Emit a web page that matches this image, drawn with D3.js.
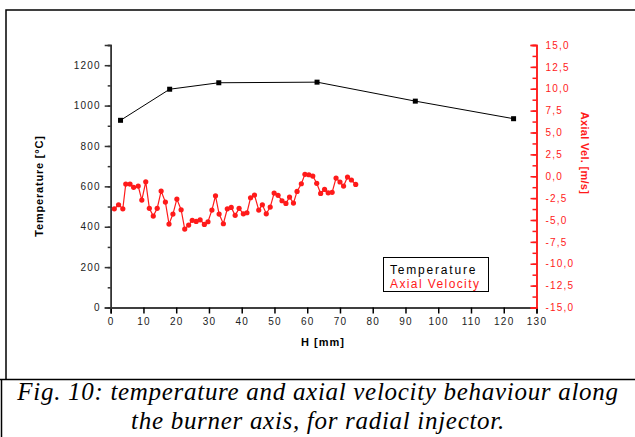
<!DOCTYPE html>
<html>
<head>
<meta charset="utf-8">
<script src="https://cdn.jsdelivr.net/npm/d3@7"></script>
<style>
  body { margin: 0; background: #fff; }
  svg { display: block; }
  .tick text { font-family: "Liberation Sans", Arial, sans-serif; font-size: 10px; letter-spacing: 1.2px; }
</style>
</head>
<body>
<svg id="chart"></svg>
<script>
// temperature along the axis (mm, °C)
var tempH = [3, 18, 33, 63, 93, 123];
var tempVal = [927, 1081, 1113, 1116, 1022, 935];

// axial velocity (mm, m/s)
var velH = [1.1, 2.4, 3.7, 4.6, 5.9, 7.0, 8.4, 9.5, 10.7, 11.8, 13.0, 14.2, 15.4, 16.7, 17.8, 19.0,
  20.2, 21.5, 22.6, 23.8, 24.9, 26.1, 27.3, 28.6, 29.7, 30.9, 32.0, 33.1, 34.4, 35.6, 36.8, 38.0,
  39.2, 40.5, 41.6, 42.7, 43.9, 45.2, 46.3, 47.5, 48.7, 49.9, 51.1, 52.3, 53.5, 54.6, 55.8, 56.9,
  58.2, 59.3, 60.5, 61.7, 62.9, 64.1, 65.3, 66.4, 67.6, 68.8, 70.0, 71.1, 72.3, 73.5, 74.8];
var velVal = [-3.72, -3.26, -3.72, -0.89, -0.89, -1.27, -1.12, -2.72, -0.63, -3.67, -4.55, -3.67, -1.69, -2.95, -5.47, -4.32,
  -2.61, -3.83, -6.04, -5.58, -5.04, -5.16, -4.98, -5.50, -5.20, -3.87, -2.23, -4.32, -5.43, -3.72, -3.56, -4.47,
  -3.67, -4.29, -4.17, -2.46, -2.15, -3.87, -3.26, -4.29, -3.52, -1.92, -2.18, -2.80, -3.10, -2.38, -3.07, -1.73,
  -0.86, 0.22, 0.17, 0.02, -0.81, -1.96, -1.50, -1.89, -1.84, -0.21, -0.66, -1.12, -0.09, -0.43, -0.93];

var xTicks = [0, 10, 20, 30, 40, 50, 60, 70, 80, 90, 100, 110, 120, 130];
var tempTicks = [0, 200, 400, 600, 800, 1000, 1200];
var velTicks = [-15, -12.5, -10, -7.5, -5, -2.5, 0, 2.5, 5, 7.5, 10, 12.5, 15];

var W = 635, H = 437;
var red = "#ff1a1a";

var svg = d3.select("#chart").attr("width", W).attr("height", H);

// frames
svg.append("path").attr("d", "M6,379V10H635").attr("fill", "none").attr("stroke", "#000").attr("stroke-width", 1.5);
svg.append("path").attr("d", "M0,379.5H635M1.5,379V437").attr("fill", "none").attr("stroke", "#000").attr("stroke-width", 1.5);

var x = d3.scaleLinear().domain([0, 130]).range([110.7, 536.5]);
var yT = d3.scaleLinear().domain([0, 1300]).range([307.5, 45]);
var yV = d3.scaleLinear().domain([-15, 15]).range([307.5, 45]);

var loc = d3.formatLocale({decimal: ",", thousands: "", grouping: [3], currency: ["", ""], minus: "-"});
var f1 = loc.format(".1f");
var f0 = loc.format("d");

function minors(a, b, step) {
  var out = [];
  for (var v = a; v <= b + 1e-9; v += step) out.push(v);
  return out;
}

// x axis
var gx = svg.append("g").attr("transform", "translate(0," + yT(0) + ")");
gx.call(d3.axisBottom(x).tickValues(minors(0, 130, 5)).tickSize(3).tickFormat(""));
gx.call(d3.axisBottom(x).tickValues(xTicks).tickSize(6).tickPadding(4.5).tickFormat(f0));
gx.selectAll(".domain, line").attr("stroke", "#000").attr("stroke-width", 1.5);
gx.selectAll("text").attr("fill", "#222");

// left axis
var gl = svg.append("g").attr("transform", "translate(" + x(0) + ",0)");
gl.append("g").call(d3.axisLeft(yT).tickValues(minors(0, 1300, 100)).tickSize(3).tickFormat(""));
gl.append("g").call(d3.axisLeft(yT).tickValues(tempTicks).tickSize(6).tickPadding(4).tickFormat(f0));
gl.selectAll(".domain, line").attr("stroke", "#333").attr("stroke-width", 1.5);
gl.selectAll("text").attr("fill", "#222");

// right axis, ticks pointing inward
var gr = svg.append("g").attr("transform", "translate(" + x(130) + ",0)");
gr.append("g").call(d3.axisRight(yV).tickValues(minors(-15, 15, 1.25)).tickSize(-4).tickFormat(""));
gr.append("g").call(d3.axisRight(yV).tickValues(velTicks).tickSize(-6).tickPadding(9).tickFormat(f1));
gr.selectAll(".domain, line").attr("stroke", red).attr("stroke-width", 1.5);
gr.selectAll("text").attr("fill", red);

// titles
var bold = {"font-family": "Liberation Sans, Arial, sans-serif", "font-size": "11px", "font-weight": "bold"};
function title(t, tx, ty, rot, color, ls) {
  var el = svg.append("text").text(t)
    .attr("transform", "translate(" + tx + "," + ty + ") rotate(" + rot + ")")
    .attr("text-anchor", "middle").attr("fill", color).style("letter-spacing", ls + "px");
  for (var k in bold) el.attr(k, bold[k]);
}
title("Temperature [°C]", 43, 186, -90, "#000", 0.8);
title("H [mm]", 323, 346, 0, "#000", 1);
title("Axial Vel. [m/s]", 581, 153, 90, red, 0.3);

// temperature series
var lineT = d3.line().x(function(d, i) { return x(tempH[i]); }).y(function(d) { return yT(d); });
svg.append("path").datum(tempVal).attr("d", lineT).attr("fill", "none").attr("stroke", "#000").attr("stroke-width", 1);
svg.selectAll("rect.t").data(tempVal).enter().append("rect").attr("class", "t")
  .attr("x", function(d, i) { return x(tempH[i]) - 2.5; })
  .attr("y", function(d) { return yT(d) - 2.5; })
  .attr("width", 5).attr("height", 5).attr("fill", "#000");

// velocity series
var lineV = d3.line().x(function(d, i) { return x(velH[i]); }).y(function(d) { return yV(d); });
svg.append("path").datum(velVal).attr("d", lineV).attr("fill", "none").attr("stroke", red).attr("stroke-width", 1.2);
svg.selectAll("circle.v").data(velVal).enter().append("circle").attr("class", "v")
  .attr("cx", function(d, i) { return x(velH[i]); })
  .attr("cy", function(d) { return yV(d); })
  .attr("r", 2.6).attr("fill", red);

// legend
svg.append("rect").attr("x", 383.5).attr("y", 257.5).attr("width", 105).attr("height", 34)
  .attr("fill", "#fff").attr("stroke", "#000").attr("stroke-width", 1);
var leg = [["Temperature", "#000", 274, 1.8], ["Axial Velocity", red, 288, 1.4]];
leg.forEach(function(l) {
  svg.append("text").text(l[0]).attr("x", 390).attr("y", l[2]).attr("fill", l[1])
    .attr("font-family", "Liberation Sans, Arial, sans-serif").attr("font-size", "12px")
    .style("letter-spacing", l[3] + "px");
});

// caption
var cap = ["Fig. 10: temperature and axial velocity behaviour along", "the burner axis, for radial injector."];
cap.forEach(function(c, i) {
  svg.append("text").text(c).attr("x", 318).attr("y", 400 + i * 28.5)
    .attr("text-anchor", "middle").attr("font-family", "Liberation Serif, Times New Roman, serif")
    .attr("font-style", "italic").attr("font-size", "25px").attr("fill", "#000")
    .style("letter-spacing", "0.7px");
});
</script>
</body>
</html>
